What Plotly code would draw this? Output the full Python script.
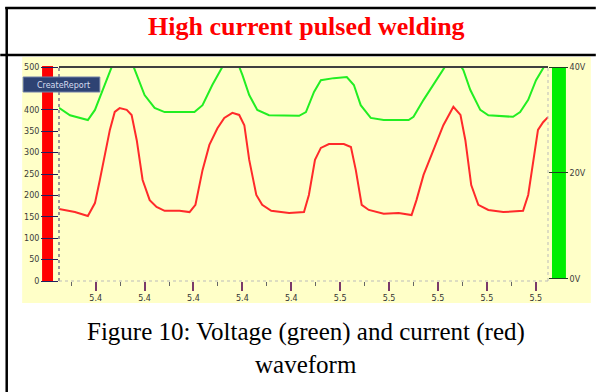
import plotly.graph_objects as go

# ---------------- data ----------------
current_t = [5.3850, 5.3915, 5.3968, 5.3997, 5.4017, 5.4037, 5.4058, 5.4078, 5.4098, 5.4127,
             5.4147, 5.4168, 5.4192, 5.4221, 5.4249, 5.4282, 5.4343, 5.4384, 5.4408, 5.4437,
             5.4465, 5.4498, 5.4526, 5.4559, 5.4587, 5.4608, 5.4628, 5.4657, 5.4681, 5.4718,
             5.4791, 5.4852, 5.4872, 5.4897, 5.4921, 5.4954, 5.5015, 5.5044, 5.5064, 5.5088,
             5.5117, 5.5178, 5.5239, 5.5292, 5.5312, 5.5341, 5.5382, 5.5422, 5.5463, 5.5492,
             5.5512, 5.5536, 5.5565, 5.5606, 5.5667, 5.5748, 5.5769, 5.5789, 5.5809, 5.5830,
             5.5850]
current_a = [168, 161, 152, 182, 236, 294, 353, 395, 404, 400,
             388, 329, 236, 189, 173, 164, 164, 161, 178, 259,
             318, 357, 381, 393, 388, 364, 283, 201, 178, 164,
             159, 161, 201, 283, 311, 320, 320, 313, 259, 178,
             166, 157, 159, 154, 189, 248, 306, 364, 407, 388,
             329, 224, 178, 166, 161, 164, 201, 283, 353, 371,
             383]

voltage_t = [5.3850, 5.3895, 5.3968, 5.3997, 5.4029, 5.4058, 5.4074, 5.4111, 5.4147, 5.4168,
             5.4200, 5.4241, 5.4282, 5.4404, 5.4437, 5.4477, 5.4514, 5.4530, 5.4555, 5.4579,
             5.4600, 5.4628, 5.4661, 5.4709, 5.4832, 5.4860, 5.4893, 5.4921, 5.4974, 5.5027,
             5.5056, 5.5084, 5.5125, 5.5178, 5.5280, 5.5300, 5.5341, 5.5382, 5.5422, 5.5443,
             5.5463, 5.5483, 5.5504, 5.5532, 5.5573, 5.5606, 5.5707, 5.5736, 5.5769, 5.5801,
             5.5830, 5.5850]
voltage_v = [32.3, 30.9, 30.0, 31.9, 35.7, 39.1, 41.0, 43.0, 41.0, 38.5,
             34.7, 32.3, 31.5, 31.5, 32.8, 36.6, 39.8, 41.0, 42.5, 41.0,
             38.5, 34.7, 31.9, 30.9, 30.8, 31.5, 35.3, 37.5, 37.9, 38.1,
             36.6, 32.8, 30.4, 30.0, 30.0, 30.6, 33.8, 36.6, 39.4, 41.0,
             42.5, 41.0, 39.4, 35.7, 31.9, 30.9, 30.6, 31.5, 33.8, 37.5,
             39.8, 41.3]

x_tick_vals = [5.40, 5.42, 5.44, 5.46, 5.48, 5.50, 5.52, 5.54, 5.56, 5.58]
x_tick_text = ["5.4", "5.4", "5.4", "5.4", "5.4", "5.5", "5.5", "5.5", "5.5", "5.5"]
# 450 sits behind the CreateReport button in the reference, so it is not labelled
amp_ticks = [0, 50, 100, 150, 200, 250, 300, 350, 400, 500]
volt_ticks = [0, 20, 40]
volt_text = ["0V", "20V", "40V"]

title_text = "High current pulsed welding"
caption_1 = "Figure 10: Voltage (green) and current (red)"
caption_2 = "waveform"

# ---------------- layout geometry (pixels) ----------------
WIDTH, HEIGHT = 598, 392
L, R, T, B = 59, 550, 67, 281
PW, PH = R - L, B - T


def fx(x):
    return (x - L) / PW


def fy(y):
    return (B - y) / PH


YELLOW = "#FFFFC8"

fig = go.Figure()
fig.add_trace(go.Scatter(x=current_t, y=current_a, mode="lines",
                         line=dict(color="#FF2A2A", width=2), yaxis="y", showlegend=False))
fig.add_trace(go.Scatter(x=voltage_t, y=voltage_v, mode="lines",
                         line=dict(color="#22EE22", width=2), yaxis="y2", showlegend=False))

tickfont = dict(family="DejaVu Sans", size=8, color="#3a3a3a")

shapes = [
    # screenshot background
    dict(type="rect", xref="paper", yref="paper", x0=fx(22), x1=fx(593), y0=fy(303), y1=fy(57),
         fillcolor=YELLOW, line=dict(width=0), layer="below"),
    # red current bar
    dict(type="rect", xref="paper", yref="paper", x0=fx(42), x1=fx(53), y0=fy(281), y1=fy(66),
         fillcolor="#FF0000", line=dict(width=0), layer="below"),
    # green voltage bar
    dict(type="rect", xref="paper", yref="paper", x0=fx(554), x1=fx(568), y0=fy(279), y1=fy(67),
         fillcolor="#00EE00", line=dict(width=0), layer="below"),
    # plot frame
    dict(type="line", xref="paper", yref="paper", x0=0, x1=0, y0=0, y1=1,
         line=dict(color="#999999", width=2, dash="dot"), layer="above"),
    dict(type="line", xref="paper", yref="paper", x0=0, x1=1, y0=0, y1=0,
         line=dict(color="#BBBBBB", width=1, dash="dot"), layer="above"),
    dict(type="line", xref="paper", yref="paper", x0=1, x1=1, y0=0, y1=1,
         line=dict(color="#BBBBBB", width=1, dash="dot"), layer="above"),
    dict(type="line", xref="paper", yref="paper", x0=0, x1=1, y0=1, y1=1,
         line=dict(color="#404040", width=2), layer="above"),
    # CreateReport button
    dict(type="rect", xref="paper", yref="paper", x0=fx(23), x1=fx(100), y0=fy(92), y1=fy(77),
         fillcolor="#2E4373", line=dict(color="#7080A8", width=1), layer="above"),
    # table borders
    dict(type="line", xref="paper", yref="paper", x0=fx(5), x1=fx(598), y0=fy(8), y1=fy(8),
         line=dict(color="black", width=2.5), layer="above"),
    dict(type="line", xref="paper", yref="paper", x0=fx(0), x1=fx(598), y0=fy(55), y1=fy(55),
         line=dict(color="black", width=2.5), layer="above"),
    dict(type="line", xref="paper", yref="paper", x0=fx(6.5), x1=fx(6.5), y0=fy(392), y1=fy(7),
         line=dict(color="black", width=2.5), layer="above"),
]

annotations = [
    dict(text=title_text, xref="paper", yref="paper", x=fx(308), y=fy(27),
         xanchor="center", yanchor="middle", showarrow=False,
         font=dict(family="Liberation Serif", size=26, color="#FF0000", weight="bold")),
    dict(text=caption_1, xref="paper", yref="paper", x=fx(307), y=fy(332),
         xanchor="center", yanchor="middle", showarrow=False,
         font=dict(family="Liberation Serif", size=25, color="black")),
    dict(text=caption_2, xref="paper", yref="paper", x=fx(307), y=fy(364),
         xanchor="center", yanchor="middle", showarrow=False,
         font=dict(family="Liberation Serif", size=25, color="black")),
    dict(text="CreateReport", xref="paper", yref="paper", x=fx(64), y=fy(85),
         xanchor="center", yanchor="middle", showarrow=False,
         font=dict(family="DejaVu Sans", size=8, color="#D8DCF0")),
]

fig.update_layout(
    width=WIDTH, height=HEIGHT, autosize=False,
    margin=dict(l=L, r=WIDTH - R, t=T, b=HEIGHT - B, pad=0),
    paper_bgcolor="white", plot_bgcolor=YELLOW,
    showlegend=False,
    xaxis=dict(range=[5.385, 5.585], tickvals=x_tick_vals, ticktext=x_tick_text,
               ticks="outside", ticklen=9, tickwidth=2, tickcolor="#7A3A6A",
               minor=dict(tickvals=[v - 0.01 for v in x_tick_vals] + [5.59],
                          ticks="outside", ticklen=4, tickwidth=1, tickcolor="#666666"),
               showgrid=False, zeroline=False, showline=False,
               tickfont=dict(family="DejaVu Sans", size=8, color="#333333")),
    yaxis=dict(range=[0, 500], tickvals=amp_ticks, ticks="outside", ticklen=17,
               tickwidth=1, tickcolor="#202060", showgrid=False, zeroline=False,
               showline=False, tickfont=tickfont),
    yaxis2=dict(range=[-0.38, 40], overlaying="y", side="right", tickvals=volt_ticks,
                ticktext=volt_text, ticks="outside", ticklen=19, tickwidth=1,
                tickcolor="#204020", showgrid=False, zeroline=False, showline=False,
                tickfont=tickfont),
    shapes=shapes,
    annotations=annotations,
)

fig.write_html("out.html", config={"displayModeBar": False, "staticPlot": True},
               post_script="document.body.style.margin='0';document.body.style.overflow='hidden';")
